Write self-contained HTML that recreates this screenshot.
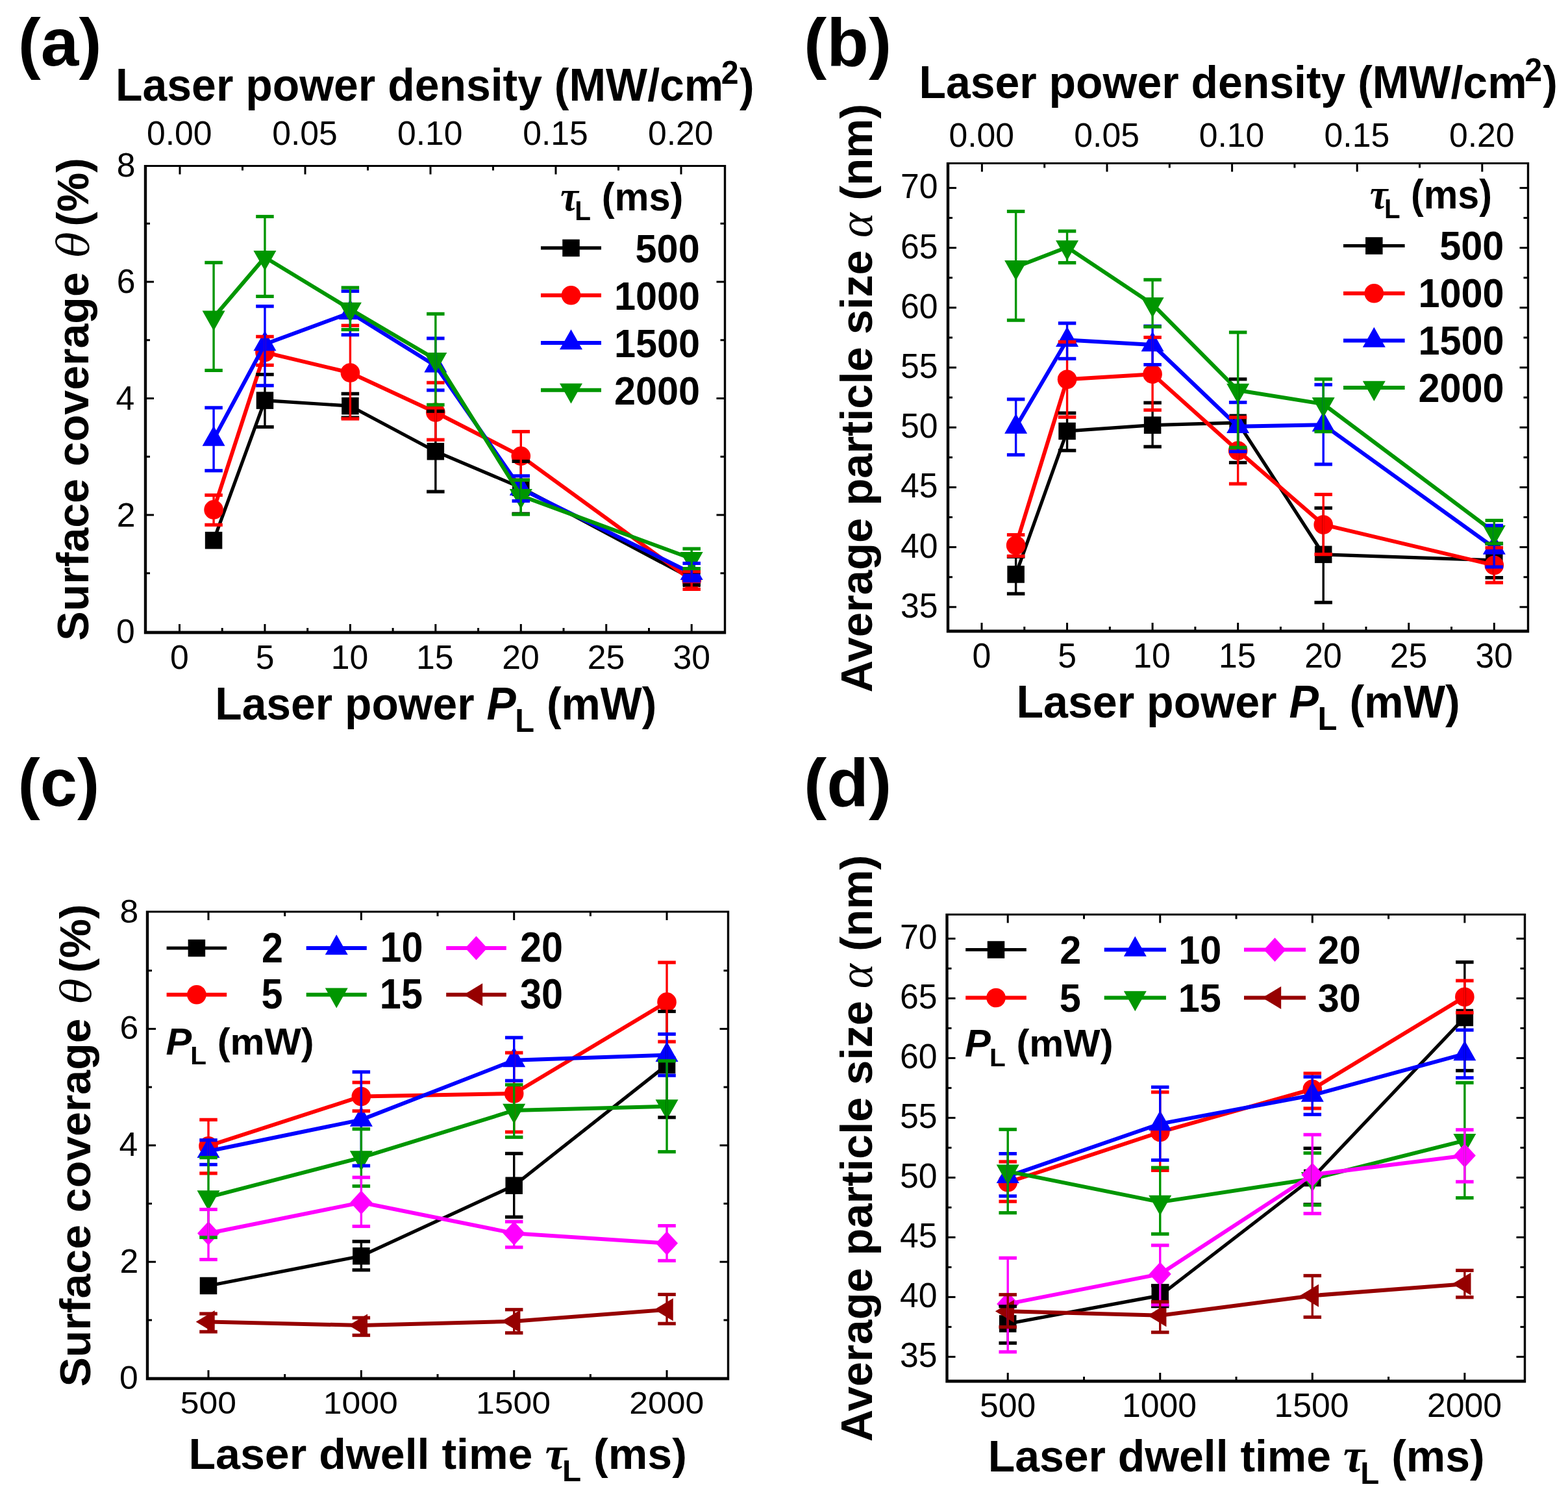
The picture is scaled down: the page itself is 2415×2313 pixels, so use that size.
<!DOCTYPE html><html><head><meta charset='utf-8'><title>Figure</title><style>html,body{margin:0;padding:0;background:#fff}svg{display:block}</style></head><body><svg xmlns='http://www.w3.org/2000/svg' width='2415' height='2313' viewBox='0 0 2415 2313'><rect width='2415' height='2313' fill='#fff'/><rect x='221.80' y='254.00' width='896.40' height='722.40' fill='#000'/><rect x='226.20' y='257.00' width='888.60' height='714.60' fill='#fff'/><line x1='276.50' y1='974.00' x2='276.50' y2='961.00' stroke='#000000' stroke-width='3.0' /><line x1='342.23' y1='974.00' x2='342.23' y2='967.00' stroke='#000000' stroke-width='3.0' /><line x1='407.95' y1='974.00' x2='407.95' y2='961.00' stroke='#000000' stroke-width='3.0' /><line x1='473.67' y1='974.00' x2='473.67' y2='967.00' stroke='#000000' stroke-width='3.0' /><line x1='539.40' y1='974.00' x2='539.40' y2='961.00' stroke='#000000' stroke-width='3.0' /><line x1='605.12' y1='974.00' x2='605.12' y2='967.00' stroke='#000000' stroke-width='3.0' /><line x1='670.85' y1='974.00' x2='670.85' y2='961.00' stroke='#000000' stroke-width='3.0' /><line x1='736.58' y1='974.00' x2='736.58' y2='967.00' stroke='#000000' stroke-width='3.0' /><line x1='802.30' y1='974.00' x2='802.30' y2='961.00' stroke='#000000' stroke-width='3.0' /><line x1='868.02' y1='974.00' x2='868.02' y2='967.00' stroke='#000000' stroke-width='3.0' /><line x1='933.75' y1='974.00' x2='933.75' y2='961.00' stroke='#000000' stroke-width='3.0' /><line x1='999.48' y1='974.00' x2='999.48' y2='967.00' stroke='#000000' stroke-width='3.0' /><line x1='1065.20' y1='974.00' x2='1065.20' y2='961.00' stroke='#000000' stroke-width='3.0' /><rect x='1457.80' y='250.00' width='897.40' height='724.40' fill='#000'/><rect x='1462.20' y='253.00' width='889.60' height='716.60' fill='#fff'/><line x1='1512.00' y1='972.00' x2='1512.00' y2='959.00' stroke='#000000' stroke-width='3.0' /><line x1='1577.78' y1='972.00' x2='1577.78' y2='965.00' stroke='#000000' stroke-width='3.0' /><line x1='1643.55' y1='972.00' x2='1643.55' y2='959.00' stroke='#000000' stroke-width='3.0' /><line x1='1709.33' y1='972.00' x2='1709.33' y2='965.00' stroke='#000000' stroke-width='3.0' /><line x1='1775.10' y1='972.00' x2='1775.10' y2='959.00' stroke='#000000' stroke-width='3.0' /><line x1='1840.88' y1='972.00' x2='1840.88' y2='965.00' stroke='#000000' stroke-width='3.0' /><line x1='1906.65' y1='972.00' x2='1906.65' y2='959.00' stroke='#000000' stroke-width='3.0' /><line x1='1972.42' y1='972.00' x2='1972.42' y2='965.00' stroke='#000000' stroke-width='3.0' /><line x1='2038.20' y1='972.00' x2='2038.20' y2='959.00' stroke='#000000' stroke-width='3.0' /><line x1='2103.97' y1='972.00' x2='2103.97' y2='965.00' stroke='#000000' stroke-width='3.0' /><line x1='2169.75' y1='972.00' x2='2169.75' y2='959.00' stroke='#000000' stroke-width='3.0' /><line x1='2235.53' y1='972.00' x2='2235.53' y2='965.00' stroke='#000000' stroke-width='3.0' /><line x1='2301.30' y1='972.00' x2='2301.30' y2='959.00' stroke='#000000' stroke-width='3.0' /><line x1='277.00' y1='255.50' x2='277.00' y2='268.50' stroke='#000000' stroke-width='3.0' /><line x1='373.50' y1='255.50' x2='373.50' y2='262.50' stroke='#000000' stroke-width='3.0' /><line x1='470.00' y1='255.50' x2='470.00' y2='268.50' stroke='#000000' stroke-width='3.0' /><line x1='566.50' y1='255.50' x2='566.50' y2='262.50' stroke='#000000' stroke-width='3.0' /><line x1='663.00' y1='255.50' x2='663.00' y2='268.50' stroke='#000000' stroke-width='3.0' /><line x1='759.50' y1='255.50' x2='759.50' y2='262.50' stroke='#000000' stroke-width='3.0' /><line x1='856.00' y1='255.50' x2='856.00' y2='268.50' stroke='#000000' stroke-width='3.0' /><line x1='952.50' y1='255.50' x2='952.50' y2='262.50' stroke='#000000' stroke-width='3.0' /><line x1='1049.00' y1='255.50' x2='1049.00' y2='268.50' stroke='#000000' stroke-width='3.0' /><line x1='1512.40' y1='251.50' x2='1512.40' y2='264.50' stroke='#000000' stroke-width='3.0' /><line x1='1608.70' y1='251.50' x2='1608.70' y2='258.50' stroke='#000000' stroke-width='3.0' /><line x1='1705.00' y1='251.50' x2='1705.00' y2='264.50' stroke='#000000' stroke-width='3.0' /><line x1='1801.30' y1='251.50' x2='1801.30' y2='258.50' stroke='#000000' stroke-width='3.0' /><line x1='1897.60' y1='251.50' x2='1897.60' y2='264.50' stroke='#000000' stroke-width='3.0' /><line x1='1993.90' y1='251.50' x2='1993.90' y2='258.50' stroke='#000000' stroke-width='3.0' /><line x1='2090.20' y1='251.50' x2='2090.20' y2='264.50' stroke='#000000' stroke-width='3.0' /><line x1='2186.50' y1='251.50' x2='2186.50' y2='258.50' stroke='#000000' stroke-width='3.0' /><line x1='2282.80' y1='251.50' x2='2282.80' y2='264.50' stroke='#000000' stroke-width='3.0' /><line x1='224.00' y1='882.75' x2='231.00' y2='882.75' stroke='#000000' stroke-width='3.0' /><line x1='1116.50' y1='882.75' x2='1109.50' y2='882.75' stroke='#000000' stroke-width='3.0' /><line x1='224.00' y1='793.00' x2='237.00' y2='793.00' stroke='#000000' stroke-width='3.0' /><line x1='1116.50' y1='793.00' x2='1103.50' y2='793.00' stroke='#000000' stroke-width='3.0' /><line x1='224.00' y1='703.25' x2='231.00' y2='703.25' stroke='#000000' stroke-width='3.0' /><line x1='1116.50' y1='703.25' x2='1109.50' y2='703.25' stroke='#000000' stroke-width='3.0' /><line x1='224.00' y1='613.50' x2='237.00' y2='613.50' stroke='#000000' stroke-width='3.0' /><line x1='1116.50' y1='613.50' x2='1103.50' y2='613.50' stroke='#000000' stroke-width='3.0' /><line x1='224.00' y1='523.75' x2='231.00' y2='523.75' stroke='#000000' stroke-width='3.0' /><line x1='1116.50' y1='523.75' x2='1109.50' y2='523.75' stroke='#000000' stroke-width='3.0' /><line x1='224.00' y1='434.00' x2='237.00' y2='434.00' stroke='#000000' stroke-width='3.0' /><line x1='1116.50' y1='434.00' x2='1103.50' y2='434.00' stroke='#000000' stroke-width='3.0' /><line x1='224.00' y1='344.25' x2='231.00' y2='344.25' stroke='#000000' stroke-width='3.0' /><line x1='1116.50' y1='344.25' x2='1109.50' y2='344.25' stroke='#000000' stroke-width='3.0' /><line x1='1460.00' y1='934.80' x2='1473.00' y2='934.80' stroke='#000000' stroke-width='3.0' /><line x1='2353.50' y1='934.80' x2='2340.50' y2='934.80' stroke='#000000' stroke-width='3.0' /><line x1='1460.00' y1='888.70' x2='1467.00' y2='888.70' stroke='#000000' stroke-width='3.0' /><line x1='2353.50' y1='888.70' x2='2346.50' y2='888.70' stroke='#000000' stroke-width='3.0' /><line x1='1460.00' y1='842.60' x2='1473.00' y2='842.60' stroke='#000000' stroke-width='3.0' /><line x1='2353.50' y1='842.60' x2='2340.50' y2='842.60' stroke='#000000' stroke-width='3.0' /><line x1='1460.00' y1='796.50' x2='1467.00' y2='796.50' stroke='#000000' stroke-width='3.0' /><line x1='2353.50' y1='796.50' x2='2346.50' y2='796.50' stroke='#000000' stroke-width='3.0' /><line x1='1460.00' y1='750.40' x2='1473.00' y2='750.40' stroke='#000000' stroke-width='3.0' /><line x1='2353.50' y1='750.40' x2='2340.50' y2='750.40' stroke='#000000' stroke-width='3.0' /><line x1='1460.00' y1='704.30' x2='1467.00' y2='704.30' stroke='#000000' stroke-width='3.0' /><line x1='2353.50' y1='704.30' x2='2346.50' y2='704.30' stroke='#000000' stroke-width='3.0' /><line x1='1460.00' y1='658.20' x2='1473.00' y2='658.20' stroke='#000000' stroke-width='3.0' /><line x1='2353.50' y1='658.20' x2='2340.50' y2='658.20' stroke='#000000' stroke-width='3.0' /><line x1='1460.00' y1='612.10' x2='1467.00' y2='612.10' stroke='#000000' stroke-width='3.0' /><line x1='2353.50' y1='612.10' x2='2346.50' y2='612.10' stroke='#000000' stroke-width='3.0' /><line x1='1460.00' y1='566.00' x2='1473.00' y2='566.00' stroke='#000000' stroke-width='3.0' /><line x1='2353.50' y1='566.00' x2='2340.50' y2='566.00' stroke='#000000' stroke-width='3.0' /><line x1='1460.00' y1='519.90' x2='1467.00' y2='519.90' stroke='#000000' stroke-width='3.0' /><line x1='2353.50' y1='519.90' x2='2346.50' y2='519.90' stroke='#000000' stroke-width='3.0' /><line x1='1460.00' y1='473.80' x2='1473.00' y2='473.80' stroke='#000000' stroke-width='3.0' /><line x1='2353.50' y1='473.80' x2='2340.50' y2='473.80' stroke='#000000' stroke-width='3.0' /><line x1='1460.00' y1='427.70' x2='1467.00' y2='427.70' stroke='#000000' stroke-width='3.0' /><line x1='2353.50' y1='427.70' x2='2346.50' y2='427.70' stroke='#000000' stroke-width='3.0' /><line x1='1460.00' y1='381.60' x2='1473.00' y2='381.60' stroke='#000000' stroke-width='3.0' /><line x1='2353.50' y1='381.60' x2='2340.50' y2='381.60' stroke='#000000' stroke-width='3.0' /><line x1='1460.00' y1='335.50' x2='1467.00' y2='335.50' stroke='#000000' stroke-width='3.0' /><line x1='2353.50' y1='335.50' x2='2346.50' y2='335.50' stroke='#000000' stroke-width='3.0' /><line x1='1460.00' y1='289.40' x2='1473.00' y2='289.40' stroke='#000000' stroke-width='3.0' /><line x1='2353.50' y1='289.40' x2='2340.50' y2='289.40' stroke='#000000' stroke-width='3.0' /><rect x='224.80' y='1402.50' width='898.40' height='722.90' fill='#000'/><rect x='229.20' y='1405.50' width='890.60' height='715.10' fill='#fff'/><line x1='321.00' y1='2123.00' x2='321.00' y2='2110.00' stroke='#000000' stroke-width='3.0' /><line x1='321.00' y1='1404.00' x2='321.00' y2='1417.00' stroke='#000000' stroke-width='3.0' /><line x1='438.68' y1='2123.00' x2='438.68' y2='2116.00' stroke='#000000' stroke-width='3.0' /><line x1='438.68' y1='1404.00' x2='438.68' y2='1411.00' stroke='#000000' stroke-width='3.0' /><line x1='556.35' y1='2123.00' x2='556.35' y2='2110.00' stroke='#000000' stroke-width='3.0' /><line x1='556.35' y1='1404.00' x2='556.35' y2='1417.00' stroke='#000000' stroke-width='3.0' /><line x1='674.02' y1='2123.00' x2='674.02' y2='2116.00' stroke='#000000' stroke-width='3.0' /><line x1='674.02' y1='1404.00' x2='674.02' y2='1411.00' stroke='#000000' stroke-width='3.0' /><line x1='791.70' y1='2123.00' x2='791.70' y2='2110.00' stroke='#000000' stroke-width='3.0' /><line x1='791.70' y1='1404.00' x2='791.70' y2='1417.00' stroke='#000000' stroke-width='3.0' /><line x1='909.38' y1='2123.00' x2='909.38' y2='2116.00' stroke='#000000' stroke-width='3.0' /><line x1='909.38' y1='1404.00' x2='909.38' y2='1411.00' stroke='#000000' stroke-width='3.0' /><line x1='1027.05' y1='2123.00' x2='1027.05' y2='2110.00' stroke='#000000' stroke-width='3.0' /><line x1='1027.05' y1='1404.00' x2='1027.05' y2='1417.00' stroke='#000000' stroke-width='3.0' /><rect x='1456.30' y='1406.80' width='893.90' height='722.60' fill='#000'/><rect x='1460.70' y='1409.80' width='886.10' height='714.80' fill='#fff'/><line x1='1552.20' y1='2127.00' x2='1552.20' y2='2114.00' stroke='#000000' stroke-width='3.0' /><line x1='1552.20' y1='1408.30' x2='1552.20' y2='1421.30' stroke='#000000' stroke-width='3.0' /><line x1='1669.48' y1='2127.00' x2='1669.48' y2='2120.00' stroke='#000000' stroke-width='3.0' /><line x1='1669.48' y1='1408.30' x2='1669.48' y2='1415.30' stroke='#000000' stroke-width='3.0' /><line x1='1786.75' y1='2127.00' x2='1786.75' y2='2114.00' stroke='#000000' stroke-width='3.0' /><line x1='1786.75' y1='1408.30' x2='1786.75' y2='1421.30' stroke='#000000' stroke-width='3.0' /><line x1='1904.03' y1='2127.00' x2='1904.03' y2='2120.00' stroke='#000000' stroke-width='3.0' /><line x1='1904.03' y1='1408.30' x2='1904.03' y2='1415.30' stroke='#000000' stroke-width='3.0' /><line x1='2021.30' y1='2127.00' x2='2021.30' y2='2114.00' stroke='#000000' stroke-width='3.0' /><line x1='2021.30' y1='1408.30' x2='2021.30' y2='1421.30' stroke='#000000' stroke-width='3.0' /><line x1='2138.57' y1='2127.00' x2='2138.57' y2='2120.00' stroke='#000000' stroke-width='3.0' /><line x1='2138.57' y1='1408.30' x2='2138.57' y2='1415.30' stroke='#000000' stroke-width='3.0' /><line x1='2255.85' y1='2127.00' x2='2255.85' y2='2114.00' stroke='#000000' stroke-width='3.0' /><line x1='2255.85' y1='1408.30' x2='2255.85' y2='1421.30' stroke='#000000' stroke-width='3.0' /><line x1='227.00' y1='2032.90' x2='234.00' y2='2032.90' stroke='#000000' stroke-width='3.0' /><line x1='1121.50' y1='2032.90' x2='1114.50' y2='2032.90' stroke='#000000' stroke-width='3.0' /><line x1='227.00' y1='1943.20' x2='240.00' y2='1943.20' stroke='#000000' stroke-width='3.0' /><line x1='1121.50' y1='1943.20' x2='1108.50' y2='1943.20' stroke='#000000' stroke-width='3.0' /><line x1='227.00' y1='1853.50' x2='234.00' y2='1853.50' stroke='#000000' stroke-width='3.0' /><line x1='1121.50' y1='1853.50' x2='1114.50' y2='1853.50' stroke='#000000' stroke-width='3.0' /><line x1='227.00' y1='1763.80' x2='240.00' y2='1763.80' stroke='#000000' stroke-width='3.0' /><line x1='1121.50' y1='1763.80' x2='1108.50' y2='1763.80' stroke='#000000' stroke-width='3.0' /><line x1='227.00' y1='1674.10' x2='234.00' y2='1674.10' stroke='#000000' stroke-width='3.0' /><line x1='1121.50' y1='1674.10' x2='1114.50' y2='1674.10' stroke='#000000' stroke-width='3.0' /><line x1='227.00' y1='1584.40' x2='240.00' y2='1584.40' stroke='#000000' stroke-width='3.0' /><line x1='1121.50' y1='1584.40' x2='1108.50' y2='1584.40' stroke='#000000' stroke-width='3.0' /><line x1='227.00' y1='1494.70' x2='234.00' y2='1494.70' stroke='#000000' stroke-width='3.0' /><line x1='1121.50' y1='1494.70' x2='1114.50' y2='1494.70' stroke='#000000' stroke-width='3.0' /><line x1='1458.50' y1='2089.40' x2='1471.50' y2='2089.40' stroke='#000000' stroke-width='3.0' /><line x1='2348.50' y1='2089.40' x2='2335.50' y2='2089.40' stroke='#000000' stroke-width='3.0' /><line x1='1458.50' y1='2043.40' x2='1465.50' y2='2043.40' stroke='#000000' stroke-width='3.0' /><line x1='2348.50' y1='2043.40' x2='2341.50' y2='2043.40' stroke='#000000' stroke-width='3.0' /><line x1='1458.50' y1='1997.40' x2='1471.50' y2='1997.40' stroke='#000000' stroke-width='3.0' /><line x1='2348.50' y1='1997.40' x2='2335.50' y2='1997.40' stroke='#000000' stroke-width='3.0' /><line x1='1458.50' y1='1951.40' x2='1465.50' y2='1951.40' stroke='#000000' stroke-width='3.0' /><line x1='2348.50' y1='1951.40' x2='2341.50' y2='1951.40' stroke='#000000' stroke-width='3.0' /><line x1='1458.50' y1='1905.40' x2='1471.50' y2='1905.40' stroke='#000000' stroke-width='3.0' /><line x1='2348.50' y1='1905.40' x2='2335.50' y2='1905.40' stroke='#000000' stroke-width='3.0' /><line x1='1458.50' y1='1859.40' x2='1465.50' y2='1859.40' stroke='#000000' stroke-width='3.0' /><line x1='2348.50' y1='1859.40' x2='2341.50' y2='1859.40' stroke='#000000' stroke-width='3.0' /><line x1='1458.50' y1='1813.40' x2='1471.50' y2='1813.40' stroke='#000000' stroke-width='3.0' /><line x1='2348.50' y1='1813.40' x2='2335.50' y2='1813.40' stroke='#000000' stroke-width='3.0' /><line x1='1458.50' y1='1767.40' x2='1465.50' y2='1767.40' stroke='#000000' stroke-width='3.0' /><line x1='2348.50' y1='1767.40' x2='2341.50' y2='1767.40' stroke='#000000' stroke-width='3.0' /><line x1='1458.50' y1='1721.40' x2='1471.50' y2='1721.40' stroke='#000000' stroke-width='3.0' /><line x1='2348.50' y1='1721.40' x2='2335.50' y2='1721.40' stroke='#000000' stroke-width='3.0' /><line x1='1458.50' y1='1675.40' x2='1465.50' y2='1675.40' stroke='#000000' stroke-width='3.0' /><line x1='2348.50' y1='1675.40' x2='2341.50' y2='1675.40' stroke='#000000' stroke-width='3.0' /><line x1='1458.50' y1='1629.40' x2='1471.50' y2='1629.40' stroke='#000000' stroke-width='3.0' /><line x1='2348.50' y1='1629.40' x2='2335.50' y2='1629.40' stroke='#000000' stroke-width='3.0' /><line x1='1458.50' y1='1583.40' x2='1465.50' y2='1583.40' stroke='#000000' stroke-width='3.0' /><line x1='2348.50' y1='1583.40' x2='2341.50' y2='1583.40' stroke='#000000' stroke-width='3.0' /><line x1='1458.50' y1='1537.40' x2='1471.50' y2='1537.40' stroke='#000000' stroke-width='3.0' /><line x1='2348.50' y1='1537.40' x2='2335.50' y2='1537.40' stroke='#000000' stroke-width='3.0' /><line x1='1458.50' y1='1491.40' x2='1465.50' y2='1491.40' stroke='#000000' stroke-width='3.0' /><line x1='2348.50' y1='1491.40' x2='2341.50' y2='1491.40' stroke='#000000' stroke-width='3.0' /><line x1='1458.50' y1='1445.40' x2='1471.50' y2='1445.40' stroke='#000000' stroke-width='3.0' /><line x1='2348.50' y1='1445.40' x2='2335.50' y2='1445.40' stroke='#000000' stroke-width='3.0' /><polyline points='329.08,832.13 407.95,616.64 539.40,625.17 670.85,695.17 802.30,750.82 1065.20,890.83' fill='none' stroke='#000000' stroke-width='5.2' stroke-linejoin='round'/><rect x='315.83' y='818.88' width='26.5' height='26.5' fill='#000000'/><rect x='394.70' y='603.39' width='26.5' height='26.5' fill='#000000'/><rect x='526.15' y='611.92' width='26.5' height='26.5' fill='#000000'/><rect x='657.60' y='681.92' width='26.5' height='26.5' fill='#000000'/><rect x='789.05' y='737.57' width='26.5' height='26.5' fill='#000000'/><rect x='1051.95' y='877.58' width='26.5' height='26.5' fill='#000000'/><polyline points='329.08,784.92 407.95,542.60 539.40,574.01 670.85,635.04 802.30,702.35 1065.20,893.52' fill='none' stroke='#ff0000' stroke-width='6.0' stroke-linejoin='round'/><circle cx='329.08' cy='784.92' r='14.8' fill='#ff0000'/><circle cx='407.95' cy='542.60' r='14.8' fill='#ff0000'/><circle cx='539.40' cy='574.01' r='14.8' fill='#ff0000'/><circle cx='670.85' cy='635.04' r='14.8' fill='#ff0000'/><circle cx='802.30' cy='702.35' r='14.8' fill='#ff0000'/><circle cx='1065.20' cy='893.52' r='14.8' fill='#ff0000'/><polyline points='329.08,676.33 407.95,530.03 539.40,481.57 670.85,563.24 802.30,752.61 1065.20,882.75' fill='none' stroke='#0000ff' stroke-width='6.0' stroke-linejoin='round'/><polygon points='311.58,686.66 346.58,686.66 329.08,655.66' fill='#0000ff'/><polygon points='390.45,540.37 425.45,540.37 407.95,509.37' fill='#0000ff'/><polygon points='521.90,491.90 556.90,491.90 539.40,460.90' fill='#0000ff'/><polygon points='653.35,573.57 688.35,573.57 670.85,542.57' fill='#0000ff'/><polygon points='784.80,762.95 819.80,762.95 802.30,731.95' fill='#0000ff'/><polygon points='1047.70,893.08 1082.70,893.08 1065.20,862.08' fill='#0000ff'/><polyline points='329.08,488.75 407.95,396.30 539.40,476.18 670.85,553.37 802.30,763.38 1065.20,860.31' fill='none' stroke='#009600' stroke-width='6.0' stroke-linejoin='round'/><polygon points='311.58,478.41 346.58,478.41 329.08,509.41' fill='#009600'/><polygon points='390.45,385.97 425.45,385.97 407.95,416.97' fill='#009600'/><polygon points='521.90,465.85 556.90,465.85 539.40,496.85' fill='#009600'/><polygon points='653.35,543.03 688.35,543.03 670.85,574.03' fill='#009600'/><polygon points='784.80,753.05 819.80,753.05 802.30,784.05' fill='#009600'/><polygon points='1047.70,849.98 1082.70,849.98 1065.20,880.98' fill='#009600'/><line x1='407.95' y1='576.70' x2='407.95' y2='657.48' stroke='#000000' stroke-width='3.4' /><line x1='394.20' y1='576.70' x2='421.70' y2='576.70' stroke='#000000' stroke-width='5.2' /><line x1='394.20' y1='657.48' x2='421.70' y2='657.48' stroke='#000000' stroke-width='5.2' /><line x1='539.40' y1='606.32' x2='539.40' y2='643.12' stroke='#000000' stroke-width='3.4' /><line x1='525.65' y1='606.32' x2='553.15' y2='606.32' stroke='#000000' stroke-width='5.2' /><line x1='525.65' y1='643.12' x2='553.15' y2='643.12' stroke='#000000' stroke-width='5.2' /><line x1='670.85' y1='633.25' x2='670.85' y2='757.10' stroke='#000000' stroke-width='3.4' /><line x1='657.10' y1='633.25' x2='684.60' y2='633.25' stroke='#000000' stroke-width='5.2' /><line x1='657.10' y1='757.10' x2='684.60' y2='757.10' stroke='#000000' stroke-width='5.2' /><line x1='802.30' y1='710.43' x2='802.30' y2='791.21' stroke='#000000' stroke-width='3.4' /><line x1='788.55' y1='710.43' x2='816.05' y2='710.43' stroke='#000000' stroke-width='5.2' /><line x1='788.55' y1='791.21' x2='816.05' y2='791.21' stroke='#000000' stroke-width='5.2' /><line x1='1065.20' y1='880.96' x2='1065.20' y2='900.70' stroke='#000000' stroke-width='3.4' /><line x1='1051.45' y1='880.96' x2='1078.95' y2='880.96' stroke='#000000' stroke-width='5.2' /><line x1='1051.45' y1='900.70' x2='1078.95' y2='900.70' stroke='#000000' stroke-width='5.2' /><line x1='329.08' y1='762.49' x2='329.08' y2='808.26' stroke='#ff0000' stroke-width='3.4' /><line x1='315.33' y1='762.49' x2='342.83' y2='762.49' stroke='#ff0000' stroke-width='5.2' /><line x1='315.33' y1='808.26' x2='342.83' y2='808.26' stroke='#ff0000' stroke-width='5.2' /><line x1='407.95' y1='518.37' x2='407.95' y2='562.34' stroke='#ff0000' stroke-width='3.4' /><line x1='394.20' y1='518.37' x2='421.70' y2='518.37' stroke='#ff0000' stroke-width='5.2' /><line x1='394.20' y1='562.34' x2='421.70' y2='562.34' stroke='#ff0000' stroke-width='5.2' /><line x1='539.40' y1='501.31' x2='539.40' y2='644.91' stroke='#ff0000' stroke-width='3.4' /><line x1='525.65' y1='501.31' x2='553.15' y2='501.31' stroke='#ff0000' stroke-width='5.2' /><line x1='525.65' y1='644.91' x2='553.15' y2='644.91' stroke='#ff0000' stroke-width='5.2' /><line x1='670.85' y1='589.27' x2='670.85' y2='677.22' stroke='#ff0000' stroke-width='3.4' /><line x1='657.10' y1='589.27' x2='684.60' y2='589.27' stroke='#ff0000' stroke-width='5.2' /><line x1='657.10' y1='677.22' x2='684.60' y2='677.22' stroke='#ff0000' stroke-width='5.2' /><line x1='802.30' y1='664.66' x2='802.30' y2='739.15' stroke='#ff0000' stroke-width='3.4' /><line x1='788.55' y1='664.66' x2='816.05' y2='664.66' stroke='#ff0000' stroke-width='5.2' /><line x1='788.55' y1='739.15' x2='816.05' y2='739.15' stroke='#ff0000' stroke-width='5.2' /><line x1='1065.20' y1='880.06' x2='1065.20' y2='907.43' stroke='#ff0000' stroke-width='3.4' /><line x1='1051.45' y1='880.06' x2='1078.95' y2='880.06' stroke='#ff0000' stroke-width='5.2' /><line x1='1051.45' y1='907.43' x2='1078.95' y2='907.43' stroke='#ff0000' stroke-width='5.2' /><line x1='329.08' y1='627.86' x2='329.08' y2='724.79' stroke='#0000ff' stroke-width='3.4' /><line x1='315.33' y1='627.86' x2='342.83' y2='627.86' stroke='#0000ff' stroke-width='5.2' /><line x1='315.33' y1='724.79' x2='342.83' y2='724.79' stroke='#0000ff' stroke-width='5.2' /><line x1='407.95' y1='471.69' x2='407.95' y2='593.75' stroke='#0000ff' stroke-width='3.4' /><line x1='394.20' y1='471.69' x2='421.70' y2='471.69' stroke='#0000ff' stroke-width='5.2' /><line x1='394.20' y1='593.75' x2='421.70' y2='593.75' stroke='#0000ff' stroke-width='5.2' /><line x1='539.40' y1='448.36' x2='539.40' y2='515.67' stroke='#0000ff' stroke-width='3.4' /><line x1='525.65' y1='448.36' x2='553.15' y2='448.36' stroke='#0000ff' stroke-width='5.2' /><line x1='525.65' y1='515.67' x2='553.15' y2='515.67' stroke='#0000ff' stroke-width='5.2' /><line x1='670.85' y1='521.06' x2='670.85' y2='600.93' stroke='#0000ff' stroke-width='3.4' /><line x1='657.10' y1='521.06' x2='684.60' y2='521.06' stroke='#0000ff' stroke-width='5.2' /><line x1='657.10' y1='600.93' x2='684.60' y2='600.93' stroke='#0000ff' stroke-width='5.2' /><line x1='802.30' y1='732.87' x2='802.30' y2='771.46' stroke='#0000ff' stroke-width='3.4' /><line x1='788.55' y1='732.87' x2='816.05' y2='732.87' stroke='#0000ff' stroke-width='5.2' /><line x1='788.55' y1='771.46' x2='816.05' y2='771.46' stroke='#0000ff' stroke-width='5.2' /><line x1='1065.20' y1='867.49' x2='1065.20' y2='894.42' stroke='#0000ff' stroke-width='3.4' /><line x1='1051.45' y1='867.49' x2='1078.95' y2='867.49' stroke='#0000ff' stroke-width='5.2' /><line x1='1051.45' y1='894.42' x2='1078.95' y2='894.42' stroke='#0000ff' stroke-width='5.2' /><line x1='329.08' y1='404.38' x2='329.08' y2='570.42' stroke='#009600' stroke-width='3.4' /><line x1='315.33' y1='404.38' x2='342.83' y2='404.38' stroke='#009600' stroke-width='5.2' /><line x1='315.33' y1='570.42' x2='342.83' y2='570.42' stroke='#009600' stroke-width='5.2' /><line x1='407.95' y1='333.48' x2='407.95' y2='456.44' stroke='#009600' stroke-width='3.4' /><line x1='394.20' y1='333.48' x2='421.70' y2='333.48' stroke='#009600' stroke-width='5.2' /><line x1='394.20' y1='456.44' x2='421.70' y2='456.44' stroke='#009600' stroke-width='5.2' /><line x1='539.40' y1='442.98' x2='539.40' y2='507.60' stroke='#009600' stroke-width='3.4' /><line x1='525.65' y1='442.98' x2='553.15' y2='442.98' stroke='#009600' stroke-width='5.2' /><line x1='525.65' y1='507.60' x2='553.15' y2='507.60' stroke='#009600' stroke-width='5.2' /><line x1='670.85' y1='483.36' x2='670.85' y2='623.37' stroke='#009600' stroke-width='3.4' /><line x1='657.10' y1='483.36' x2='684.60' y2='483.36' stroke='#009600' stroke-width='5.2' /><line x1='657.10' y1='623.37' x2='684.60' y2='623.37' stroke='#009600' stroke-width='5.2' /><line x1='802.30' y1='739.15' x2='802.30' y2='792.10' stroke='#009600' stroke-width='3.4' /><line x1='788.55' y1='739.15' x2='816.05' y2='739.15' stroke='#009600' stroke-width='5.2' /><line x1='788.55' y1='792.10' x2='816.05' y2='792.10' stroke='#009600' stroke-width='5.2' /><line x1='1065.20' y1='845.06' x2='1065.20' y2='875.57' stroke='#009600' stroke-width='3.4' /><line x1='1051.45' y1='845.06' x2='1078.95' y2='845.06' stroke='#009600' stroke-width='5.2' /><line x1='1051.45' y1='875.57' x2='1078.95' y2='875.57' stroke='#009600' stroke-width='5.2' /><polyline points='1564.62,884.46 1643.55,663.92 1775.10,654.70 1906.65,650.82 2038.20,853.85 2301.30,862.88' fill='none' stroke='#000000' stroke-width='5.2' stroke-linejoin='round'/><rect x='1551.37' y='871.21' width='26.5' height='26.5' fill='#000000'/><rect x='1630.30' y='650.67' width='26.5' height='26.5' fill='#000000'/><rect x='1761.85' y='641.45' width='26.5' height='26.5' fill='#000000'/><rect x='1893.40' y='637.57' width='26.5' height='26.5' fill='#000000'/><rect x='2024.95' y='840.60' width='26.5' height='26.5' fill='#000000'/><rect x='2288.05' y='849.63' width='26.5' height='26.5' fill='#000000'/><polyline points='1564.62,839.83 1643.55,584.26 1775.10,576.14 1906.65,693.97 2038.20,807.93 2301.30,870.44' fill='none' stroke='#ff0000' stroke-width='6.0' stroke-linejoin='round'/><circle cx='1564.62' cy='839.83' r='14.8' fill='#ff0000'/><circle cx='1643.55' cy='584.26' r='14.8' fill='#ff0000'/><circle cx='1775.10' cy='576.14' r='14.8' fill='#ff0000'/><circle cx='1906.65' cy='693.97' r='14.8' fill='#ff0000'/><circle cx='2038.20' cy='807.93' r='14.8' fill='#ff0000'/><circle cx='2301.30' cy='870.44' r='14.8' fill='#ff0000'/><polyline points='1564.62,657.46 1643.55,523.59 1775.10,530.96 1906.65,656.72 2038.20,654.14 2301.30,843.52' fill='none' stroke='#0000ff' stroke-width='6.0' stroke-linejoin='round'/><polygon points='1547.12,667.80 1582.12,667.80 1564.62,636.80' fill='#0000ff'/><polygon points='1626.05,533.92 1661.05,533.92 1643.55,502.92' fill='#0000ff'/><polygon points='1757.60,541.30 1792.60,541.30 1775.10,510.30' fill='#0000ff'/><polygon points='1889.15,667.06 1924.15,667.06 1906.65,636.06' fill='#0000ff'/><polygon points='2020.70,664.48 2055.70,664.48 2038.20,633.48' fill='#0000ff'/><polygon points='2283.80,853.86 2318.80,853.86 2301.30,822.86' fill='#0000ff'/><polyline points='1564.62,411.29 1643.55,380.68 1775.10,468.45 1906.65,601.04 2038.20,622.24 2301.30,819.37' fill='none' stroke='#009600' stroke-width='6.0' stroke-linejoin='round'/><polygon points='1547.12,400.96 1582.12,400.96 1564.62,431.96' fill='#009600'/><polygon points='1626.05,370.34 1661.05,370.34 1643.55,401.34' fill='#009600'/><polygon points='1757.60,458.12 1792.60,458.12 1775.10,489.12' fill='#009600'/><polygon points='1889.15,590.70 1924.15,590.70 1906.65,621.70' fill='#009600'/><polygon points='2020.70,611.91 2055.70,611.91 2038.20,642.91' fill='#009600'/><polygon points='2283.80,809.03 2318.80,809.03 2301.30,840.03' fill='#009600'/><line x1='1564.62' y1='857.35' x2='1564.62' y2='914.33' stroke='#000000' stroke-width='3.4' /><line x1='1550.87' y1='857.35' x2='1578.37' y2='857.35' stroke='#000000' stroke-width='5.2' /><line x1='1550.87' y1='914.33' x2='1578.37' y2='914.33' stroke='#000000' stroke-width='5.2' /><line x1='1643.55' y1='636.07' x2='1643.55' y2='693.79' stroke='#000000' stroke-width='3.4' /><line x1='1629.80' y1='636.07' x2='1657.30' y2='636.07' stroke='#000000' stroke-width='5.2' /><line x1='1629.80' y1='693.79' x2='1657.30' y2='693.79' stroke='#000000' stroke-width='5.2' /><line x1='1775.10' y1='620.21' x2='1775.10' y2='687.89' stroke='#000000' stroke-width='3.4' /><line x1='1761.35' y1='620.21' x2='1788.85' y2='620.21' stroke='#000000' stroke-width='5.2' /><line x1='1761.35' y1='687.89' x2='1788.85' y2='687.89' stroke='#000000' stroke-width='5.2' /><line x1='1906.65' y1='583.89' x2='1906.65' y2='712.41' stroke='#000000' stroke-width='3.4' /><line x1='1892.90' y1='583.89' x2='1920.40' y2='583.89' stroke='#000000' stroke-width='5.2' /><line x1='1892.90' y1='712.41' x2='1920.40' y2='712.41' stroke='#000000' stroke-width='5.2' /><line x1='2038.20' y1='782.30' x2='2038.20' y2='927.79' stroke='#000000' stroke-width='3.4' /><line x1='2024.45' y1='782.30' x2='2051.95' y2='782.30' stroke='#000000' stroke-width='5.2' /><line x1='2024.45' y1='927.79' x2='2051.95' y2='927.79' stroke='#000000' stroke-width='5.2' /><line x1='2301.30' y1='837.07' x2='2301.30' y2='889.62' stroke='#000000' stroke-width='3.4' /><line x1='2287.55' y1='837.07' x2='2315.05' y2='837.07' stroke='#000000' stroke-width='5.2' /><line x1='2287.55' y1='889.62' x2='2315.05' y2='889.62' stroke='#000000' stroke-width='5.2' /><line x1='1564.62' y1='823.61' x2='1564.62' y2='856.43' stroke='#ff0000' stroke-width='3.4' /><line x1='1550.87' y1='823.61' x2='1578.37' y2='823.61' stroke='#ff0000' stroke-width='5.2' /><line x1='1550.87' y1='856.43' x2='1578.37' y2='856.43' stroke='#ff0000' stroke-width='5.2' /><line x1='1643.55' y1='526.54' x2='1643.55' y2='642.34' stroke='#ff0000' stroke-width='3.4' /><line x1='1629.80' y1='526.54' x2='1657.30' y2='526.54' stroke='#ff0000' stroke-width='5.2' /><line x1='1629.80' y1='642.34' x2='1657.30' y2='642.34' stroke='#ff0000' stroke-width='5.2' /><line x1='1775.10' y1='519.53' x2='1775.10' y2='631.46' stroke='#ff0000' stroke-width='3.4' /><line x1='1761.35' y1='519.53' x2='1788.85' y2='519.53' stroke='#ff0000' stroke-width='5.2' /><line x1='1761.35' y1='631.46' x2='1788.85' y2='631.46' stroke='#ff0000' stroke-width='5.2' /><line x1='1906.65' y1='642.71' x2='1906.65' y2='745.05' stroke='#ff0000' stroke-width='3.4' /><line x1='1892.90' y1='642.71' x2='1920.40' y2='642.71' stroke='#ff0000' stroke-width='5.2' /><line x1='1892.90' y1='745.05' x2='1920.40' y2='745.05' stroke='#ff0000' stroke-width='5.2' /><line x1='2038.20' y1='761.46' x2='2038.20' y2='853.66' stroke='#ff0000' stroke-width='3.4' /><line x1='2024.45' y1='761.46' x2='2051.95' y2='761.46' stroke='#ff0000' stroke-width='5.2' /><line x1='2024.45' y1='853.66' x2='2051.95' y2='853.66' stroke='#ff0000' stroke-width='5.2' /><line x1='2301.30' y1='843.52' x2='2301.30' y2='897.18' stroke='#ff0000' stroke-width='3.4' /><line x1='2287.55' y1='843.52' x2='2315.05' y2='843.52' stroke='#ff0000' stroke-width='5.2' /><line x1='2287.55' y1='897.18' x2='2315.05' y2='897.18' stroke='#ff0000' stroke-width='5.2' /><line x1='1564.62' y1='614.87' x2='1564.62' y2='700.43' stroke='#0000ff' stroke-width='3.4' /><line x1='1550.87' y1='614.87' x2='1578.37' y2='614.87' stroke='#0000ff' stroke-width='5.2' /><line x1='1550.87' y1='700.43' x2='1578.37' y2='700.43' stroke='#0000ff' stroke-width='5.2' /><line x1='1643.55' y1='497.77' x2='1643.55' y2='552.35' stroke='#0000ff' stroke-width='3.4' /><line x1='1629.80' y1='497.77' x2='1657.30' y2='497.77' stroke='#0000ff' stroke-width='5.2' /><line x1='1629.80' y1='552.35' x2='1657.30' y2='552.35' stroke='#0000ff' stroke-width='5.2' /><line x1='1775.10' y1='502.20' x2='1775.10' y2='561.57' stroke='#0000ff' stroke-width='3.4' /><line x1='1761.35' y1='502.20' x2='1788.85' y2='502.20' stroke='#0000ff' stroke-width='5.2' /><line x1='1761.35' y1='561.57' x2='1788.85' y2='561.57' stroke='#0000ff' stroke-width='5.2' /><line x1='1906.65' y1='619.66' x2='1906.65' y2='695.26' stroke='#0000ff' stroke-width='3.4' /><line x1='1892.90' y1='619.66' x2='1920.40' y2='619.66' stroke='#0000ff' stroke-width='5.2' /><line x1='1892.90' y1='695.26' x2='1920.40' y2='695.26' stroke='#0000ff' stroke-width='5.2' /><line x1='2038.20' y1='592.37' x2='2038.20' y2='715.00' stroke='#0000ff' stroke-width='3.4' /><line x1='2024.45' y1='592.37' x2='2051.95' y2='592.37' stroke='#0000ff' stroke-width='5.2' /><line x1='2024.45' y1='715.00' x2='2051.95' y2='715.00' stroke='#0000ff' stroke-width='5.2' /><line x1='2301.30' y1='809.22' x2='2301.30' y2='873.03' stroke='#0000ff' stroke-width='3.4' /><line x1='2287.55' y1='809.22' x2='2315.05' y2='809.22' stroke='#0000ff' stroke-width='5.2' /><line x1='2287.55' y1='873.03' x2='2315.05' y2='873.03' stroke='#0000ff' stroke-width='5.2' /><line x1='1564.62' y1='325.54' x2='1564.62' y2='493.16' stroke='#009600' stroke-width='3.4' /><line x1='1550.87' y1='325.54' x2='1578.37' y2='325.54' stroke='#009600' stroke-width='5.2' /><line x1='1550.87' y1='493.16' x2='1578.37' y2='493.16' stroke='#009600' stroke-width='5.2' /><line x1='1643.55' y1='355.97' x2='1643.55' y2='404.65' stroke='#009600' stroke-width='3.4' /><line x1='1629.80' y1='355.97' x2='1657.30' y2='355.97' stroke='#009600' stroke-width='5.2' /><line x1='1629.80' y1='404.65' x2='1657.30' y2='404.65' stroke='#009600' stroke-width='5.2' /><line x1='1775.10' y1='430.83' x2='1775.10' y2='503.12' stroke='#009600' stroke-width='3.4' /><line x1='1761.35' y1='430.83' x2='1788.85' y2='430.83' stroke='#009600' stroke-width='5.2' /><line x1='1761.35' y1='503.12' x2='1788.85' y2='503.12' stroke='#009600' stroke-width='5.2' /><line x1='1906.65' y1='511.79' x2='1906.65' y2='689.18' stroke='#009600' stroke-width='3.4' /><line x1='1892.90' y1='511.79' x2='1920.40' y2='511.79' stroke='#009600' stroke-width='5.2' /><line x1='1892.90' y1='689.18' x2='1920.40' y2='689.18' stroke='#009600' stroke-width='5.2' /><line x1='2038.20' y1='583.89' x2='2038.20' y2='664.65' stroke='#009600' stroke-width='3.4' /><line x1='2024.45' y1='583.89' x2='2051.95' y2='583.89' stroke='#009600' stroke-width='5.2' /><line x1='2024.45' y1='664.65' x2='2051.95' y2='664.65' stroke='#009600' stroke-width='5.2' /><line x1='2301.30' y1='801.48' x2='2301.30' y2='837.07' stroke='#009600' stroke-width='3.4' /><line x1='2287.55' y1='801.48' x2='2315.05' y2='801.48' stroke='#009600' stroke-width='5.2' /><line x1='2287.55' y1='837.07' x2='2315.05' y2='837.07' stroke='#009600' stroke-width='5.2' /><polyline points='321.00,1979.98 556.35,1934.23 791.70,1825.69 1027.05,1640.01' fill='none' stroke='#000000' stroke-width='5.2' stroke-linejoin='round'/><rect x='307.75' y='1966.73' width='26.5' height='26.5' fill='#000000'/><rect x='543.10' y='1920.98' width='26.5' height='26.5' fill='#000000'/><rect x='778.45' y='1812.44' width='26.5' height='26.5' fill='#000000'/><rect x='1013.80' y='1626.76' width='26.5' height='26.5' fill='#000000'/><polyline points='321.00,1764.70 556.35,1688.45 791.70,1683.97 1027.05,1543.14' fill='none' stroke='#ff0000' stroke-width='6.0' stroke-linejoin='round'/><circle cx='321.00' cy='1764.70' r='14.8' fill='#ff0000'/><circle cx='556.35' cy='1688.45' r='14.8' fill='#ff0000'/><circle cx='791.70' cy='1683.97' r='14.8' fill='#ff0000'/><circle cx='1027.05' cy='1543.14' r='14.8' fill='#ff0000'/><polyline points='321.00,1772.77 556.35,1724.33 791.70,1632.84 1027.05,1624.76' fill='none' stroke='#0000ff' stroke-width='6.0' stroke-linejoin='round'/><polygon points='303.50,1783.10 338.50,1783.10 321.00,1752.10' fill='#0000ff'/><polygon points='538.85,1734.67 573.85,1734.67 556.35,1703.67' fill='#0000ff'/><polygon points='774.20,1643.17 809.20,1643.17 791.70,1612.17' fill='#0000ff'/><polygon points='1009.55,1635.10 1044.55,1635.10 1027.05,1604.10' fill='#0000ff'/><polyline points='321.00,1843.63 556.35,1782.64 791.70,1709.98 1027.05,1703.70' fill='none' stroke='#009600' stroke-width='6.0' stroke-linejoin='round'/><polygon points='303.50,1833.30 338.50,1833.30 321.00,1864.30' fill='#009600'/><polygon points='538.85,1772.30 573.85,1772.30 556.35,1803.30' fill='#009600'/><polygon points='774.20,1699.65 809.20,1699.65 791.70,1730.65' fill='#009600'/><polygon points='1009.55,1693.37 1044.55,1693.37 1027.05,1724.37' fill='#009600'/><polyline points='321.00,1899.25 556.35,1851.71 791.70,1899.25 1027.05,1914.50' fill='none' stroke='#ff00ff' stroke-width='6.0' stroke-linejoin='round'/><polygon points='304.00,1899.25 321.00,1880.75 338.00,1899.25 321.00,1917.75' fill='#ff00ff'/><polygon points='539.35,1851.71 556.35,1833.21 573.35,1851.71 556.35,1870.21' fill='#ff00ff'/><polygon points='774.70,1899.25 791.70,1880.75 808.70,1899.25 791.70,1917.75' fill='#ff00ff'/><polygon points='1010.05,1914.50 1027.05,1896.00 1044.05,1914.50 1027.05,1933.00' fill='#ff00ff'/><polyline points='321.00,2035.59 556.35,2040.97 791.70,2034.69 1027.05,2016.75' fill='none' stroke='#960000' stroke-width='6.0' stroke-linejoin='round'/><polygon points='301.67,2035.59 330.67,2018.09 330.67,2053.09' fill='#960000'/><polygon points='537.02,2040.97 566.02,2023.47 566.02,2058.47' fill='#960000'/><polygon points='772.37,2034.69 801.37,2017.19 801.37,2052.19' fill='#960000'/><polygon points='1007.72,2016.75 1036.72,1999.25 1036.72,2034.25' fill='#960000'/><line x1='556.35' y1='1911.80' x2='556.35' y2='1955.76' stroke='#000000' stroke-width='3.4' /><line x1='542.60' y1='1911.80' x2='570.10' y2='1911.80' stroke='#000000' stroke-width='5.2' /><line x1='542.60' y1='1955.76' x2='570.10' y2='1955.76' stroke='#000000' stroke-width='5.2' /><line x1='791.70' y1='1776.36' x2='791.70' y2='1874.13' stroke='#000000' stroke-width='3.4' /><line x1='777.95' y1='1776.36' x2='805.45' y2='1776.36' stroke='#000000' stroke-width='5.2' /><line x1='777.95' y1='1874.13' x2='805.45' y2='1874.13' stroke='#000000' stroke-width='5.2' /><line x1='1027.05' y1='1557.49' x2='1027.05' y2='1720.74' stroke='#000000' stroke-width='3.4' /><line x1='1013.30' y1='1557.49' x2='1040.80' y2='1557.49' stroke='#000000' stroke-width='5.2' /><line x1='1013.30' y1='1720.74' x2='1040.80' y2='1720.74' stroke='#000000' stroke-width='5.2' /><line x1='321.00' y1='1724.33' x2='321.00' y2='1806.86' stroke='#ff0000' stroke-width='3.4' /><line x1='307.25' y1='1724.33' x2='334.75' y2='1724.33' stroke='#ff0000' stroke-width='5.2' /><line x1='307.25' y1='1806.86' x2='334.75' y2='1806.86' stroke='#ff0000' stroke-width='5.2' /><line x1='556.35' y1='1666.92' x2='556.35' y2='1710.88' stroke='#ff0000' stroke-width='3.4' /><line x1='542.60' y1='1666.92' x2='570.10' y2='1666.92' stroke='#ff0000' stroke-width='5.2' /><line x1='542.60' y1='1710.88' x2='570.10' y2='1710.88' stroke='#ff0000' stroke-width='5.2' /><line x1='791.70' y1='1621.18' x2='791.70' y2='1743.17' stroke='#ff0000' stroke-width='3.4' /><line x1='777.95' y1='1621.18' x2='805.45' y2='1621.18' stroke='#ff0000' stroke-width='5.2' /><line x1='777.95' y1='1743.17' x2='805.45' y2='1743.17' stroke='#ff0000' stroke-width='5.2' /><line x1='1027.05' y1='1482.14' x2='1027.05' y2='1604.13' stroke='#ff0000' stroke-width='3.4' /><line x1='1013.30' y1='1482.14' x2='1040.80' y2='1482.14' stroke='#ff0000' stroke-width='5.2' /><line x1='1013.30' y1='1604.13' x2='1040.80' y2='1604.13' stroke='#ff0000' stroke-width='5.2' /><line x1='321.00' y1='1755.73' x2='321.00' y2='1793.40' stroke='#0000ff' stroke-width='3.4' /><line x1='307.25' y1='1755.73' x2='334.75' y2='1755.73' stroke='#0000ff' stroke-width='5.2' /><line x1='307.25' y1='1793.40' x2='334.75' y2='1793.40' stroke='#0000ff' stroke-width='5.2' /><line x1='556.35' y1='1650.78' x2='556.35' y2='1795.19' stroke='#0000ff' stroke-width='3.4' /><line x1='542.60' y1='1650.78' x2='570.10' y2='1650.78' stroke='#0000ff' stroke-width='5.2' /><line x1='542.60' y1='1795.19' x2='570.10' y2='1795.19' stroke='#0000ff' stroke-width='5.2' /><line x1='791.70' y1='1597.86' x2='791.70' y2='1664.23' stroke='#0000ff' stroke-width='3.4' /><line x1='777.95' y1='1597.86' x2='805.45' y2='1597.86' stroke='#0000ff' stroke-width='5.2' /><line x1='777.95' y1='1664.23' x2='805.45' y2='1664.23' stroke='#0000ff' stroke-width='5.2' /><line x1='1027.05' y1='1592.47' x2='1027.05' y2='1656.16' stroke='#0000ff' stroke-width='3.4' /><line x1='1013.30' y1='1592.47' x2='1040.80' y2='1592.47' stroke='#0000ff' stroke-width='5.2' /><line x1='1013.30' y1='1656.16' x2='1040.80' y2='1656.16' stroke='#0000ff' stroke-width='5.2' /><line x1='321.00' y1='1782.64' x2='321.00' y2='1905.53' stroke='#009600' stroke-width='3.4' /><line x1='307.25' y1='1782.64' x2='334.75' y2='1782.64' stroke='#009600' stroke-width='5.2' /><line x1='307.25' y1='1905.53' x2='334.75' y2='1905.53' stroke='#009600' stroke-width='5.2' /><line x1='556.35' y1='1738.68' x2='556.35' y2='1826.59' stroke='#009600' stroke-width='3.4' /><line x1='542.60' y1='1738.68' x2='570.10' y2='1738.68' stroke='#009600' stroke-width='5.2' /><line x1='542.60' y1='1826.59' x2='570.10' y2='1826.59' stroke='#009600' stroke-width='5.2' /><line x1='791.70' y1='1670.51' x2='791.70' y2='1751.24' stroke='#009600' stroke-width='3.4' /><line x1='777.95' y1='1670.51' x2='805.45' y2='1670.51' stroke='#009600' stroke-width='5.2' /><line x1='777.95' y1='1751.24' x2='805.45' y2='1751.24' stroke='#009600' stroke-width='5.2' /><line x1='1027.05' y1='1633.73' x2='1027.05' y2='1773.67' stroke='#009600' stroke-width='3.4' /><line x1='1013.30' y1='1633.73' x2='1040.80' y2='1633.73' stroke='#009600' stroke-width='5.2' /><line x1='1013.30' y1='1773.67' x2='1040.80' y2='1773.67' stroke='#009600' stroke-width='5.2' /><line x1='321.00' y1='1862.47' x2='321.00' y2='1939.61' stroke='#ff00ff' stroke-width='3.4' /><line x1='307.25' y1='1862.47' x2='334.75' y2='1862.47' stroke='#ff00ff' stroke-width='5.2' /><line x1='307.25' y1='1939.61' x2='334.75' y2='1939.61' stroke='#ff00ff' stroke-width='5.2' /><line x1='556.35' y1='1813.13' x2='556.35' y2='1888.48' stroke='#ff00ff' stroke-width='3.4' /><line x1='542.60' y1='1813.13' x2='570.10' y2='1813.13' stroke='#ff00ff' stroke-width='5.2' /><line x1='542.60' y1='1888.48' x2='570.10' y2='1888.48' stroke='#ff00ff' stroke-width='5.2' /><line x1='791.70' y1='1881.31' x2='791.70' y2='1920.77' stroke='#ff00ff' stroke-width='3.4' /><line x1='777.95' y1='1881.31' x2='805.45' y2='1881.31' stroke='#ff00ff' stroke-width='5.2' /><line x1='777.95' y1='1920.77' x2='805.45' y2='1920.77' stroke='#ff00ff' stroke-width='5.2' /><line x1='1027.05' y1='1887.59' x2='1027.05' y2='1941.41' stroke='#ff00ff' stroke-width='3.4' /><line x1='1013.30' y1='1887.59' x2='1040.80' y2='1887.59' stroke='#ff00ff' stroke-width='5.2' /><line x1='1013.30' y1='1941.41' x2='1040.80' y2='1941.41' stroke='#ff00ff' stroke-width='5.2' /><line x1='321.00' y1='2023.03' x2='321.00' y2='2050.84' stroke='#960000' stroke-width='3.4' /><line x1='307.25' y1='2023.03' x2='334.75' y2='2023.03' stroke='#960000' stroke-width='5.2' /><line x1='307.25' y1='2050.84' x2='334.75' y2='2050.84' stroke='#960000' stroke-width='5.2' /><line x1='556.35' y1='2029.31' x2='556.35' y2='2056.22' stroke='#960000' stroke-width='3.4' /><line x1='542.60' y1='2029.31' x2='570.10' y2='2029.31' stroke='#960000' stroke-width='5.2' /><line x1='542.60' y1='2056.22' x2='570.10' y2='2056.22' stroke='#960000' stroke-width='5.2' /><line x1='791.70' y1='2016.75' x2='791.70' y2='2052.63' stroke='#960000' stroke-width='3.4' /><line x1='777.95' y1='2016.75' x2='805.45' y2='2016.75' stroke='#960000' stroke-width='5.2' /><line x1='777.95' y1='2052.63' x2='805.45' y2='2052.63' stroke='#960000' stroke-width='5.2' /><line x1='1027.05' y1='1993.43' x2='1027.05' y2='2038.28' stroke='#960000' stroke-width='3.4' /><line x1='1013.30' y1='1993.43' x2='1040.80' y2='1993.43' stroke='#960000' stroke-width='5.2' /><line x1='1013.30' y1='2038.28' x2='1040.80' y2='2038.28' stroke='#960000' stroke-width='5.2' /><polyline points='1552.20,2038.43 1786.75,1995.01 2021.30,1813.95 2255.85,1567.02' fill='none' stroke='#000000' stroke-width='5.2' stroke-linejoin='round'/><rect x='1538.95' y='2025.18' width='26.5' height='26.5' fill='#000000'/><rect x='1773.50' y='1981.76' width='26.5' height='26.5' fill='#000000'/><rect x='2008.05' y='1800.70' width='26.5' height='26.5' fill='#000000'/><rect x='2242.60' y='1553.77' width='26.5' height='26.5' fill='#000000'/><polyline points='1552.20,1820.76 1786.75,1743.48 2021.30,1677.24 2255.85,1535.19' fill='none' stroke='#ff0000' stroke-width='6.0' stroke-linejoin='round'/><circle cx='1552.20' cy='1820.76' r='14.8' fill='#ff0000'/><circle cx='1786.75' cy='1743.48' r='14.8' fill='#ff0000'/><circle cx='2021.30' cy='1677.24' r='14.8' fill='#ff0000'/><circle cx='2255.85' cy='1535.19' r='14.8' fill='#ff0000'/><polyline points='1552.20,1811.56 1786.75,1730.60 2021.30,1686.44 2255.85,1622.96' fill='none' stroke='#0000ff' stroke-width='6.0' stroke-linejoin='round'/><polygon points='1534.70,1821.89 1569.70,1821.89 1552.20,1790.89' fill='#0000ff'/><polygon points='1769.25,1740.93 1804.25,1740.93 1786.75,1709.93' fill='#0000ff'/><polygon points='2003.80,1696.77 2038.80,1696.77 2021.30,1665.77' fill='#0000ff'/><polygon points='2238.35,1633.29 2273.35,1633.29 2255.85,1602.29' fill='#0000ff'/><polyline points='1552.20,1803.83 1786.75,1851.12 2021.30,1815.24 2255.85,1756.36' fill='none' stroke='#009600' stroke-width='6.0' stroke-linejoin='round'/><polygon points='1534.70,1793.50 1569.70,1793.50 1552.20,1824.50' fill='#009600'/><polygon points='1769.25,1840.79 1804.25,1840.79 1786.75,1871.79' fill='#009600'/><polygon points='2003.80,1804.91 2038.80,1804.91 2021.30,1835.91' fill='#009600'/><polygon points='2238.35,1746.03 2273.35,1746.03 2255.85,1777.03' fill='#009600'/><polyline points='1552.20,2007.89 1786.75,1961.89 2021.30,1808.98 2255.85,1779.54' fill='none' stroke='#ff00ff' stroke-width='6.0' stroke-linejoin='round'/><polygon points='1535.20,2007.89 1552.20,1989.39 1569.20,2007.89 1552.20,2026.39' fill='#ff00ff'/><polygon points='1769.75,1961.89 1786.75,1943.39 1803.75,1961.89 1786.75,1980.39' fill='#ff00ff'/><polygon points='2004.30,1808.98 2021.30,1790.48 2038.30,1808.98 2021.30,1827.48' fill='#ff00ff'/><polygon points='2238.85,1779.54 2255.85,1761.04 2272.85,1779.54 2255.85,1798.04' fill='#ff00ff'/><polyline points='1552.20,2019.30 1786.75,2025.74 2021.30,1995.19 2255.85,1977.16' fill='none' stroke='#960000' stroke-width='6.0' stroke-linejoin='round'/><polygon points='1532.87,2019.30 1561.87,2001.80 1561.87,2036.80' fill='#960000'/><polygon points='1767.42,2025.74 1796.42,2008.24 1796.42,2043.24' fill='#960000'/><polygon points='2001.97,1995.19 2030.97,1977.69 2030.97,2012.69' fill='#960000'/><polygon points='2236.52,1977.16 2265.52,1959.66 2265.52,1994.66' fill='#960000'/><line x1='1552.20' y1='2011.75' x2='1552.20' y2='2068.24' stroke='#000000' stroke-width='3.4' /><line x1='1538.45' y1='2011.75' x2='1565.95' y2='2011.75' stroke='#000000' stroke-width='5.2' /><line x1='1538.45' y1='2068.24' x2='1565.95' y2='2068.24' stroke='#000000' stroke-width='5.2' /><line x1='1786.75' y1='1979.74' x2='1786.75' y2='2011.75' stroke='#000000' stroke-width='3.4' /><line x1='1773.00' y1='1979.74' x2='1800.50' y2='1979.74' stroke='#000000' stroke-width='5.2' /><line x1='1773.00' y1='2011.75' x2='1800.50' y2='2011.75' stroke='#000000' stroke-width='5.2' /><line x1='2021.30' y1='1768.32' x2='2021.30' y2='1854.80' stroke='#000000' stroke-width='3.4' /><line x1='2007.55' y1='1768.32' x2='2035.05' y2='1768.32' stroke='#000000' stroke-width='5.2' /><line x1='2007.55' y1='1854.80' x2='2035.05' y2='1854.80' stroke='#000000' stroke-width='5.2' /><line x1='2255.85' y1='1481.65' x2='2255.85' y2='1648.72' stroke='#000000' stroke-width='3.4' /><line x1='2242.10' y1='1481.65' x2='2269.60' y2='1481.65' stroke='#000000' stroke-width='5.2' /><line x1='2242.10' y1='1648.72' x2='2269.60' y2='1648.72' stroke='#000000' stroke-width='5.2' /><line x1='1552.20' y1='1788.93' x2='1552.20' y2='1850.20' stroke='#ff0000' stroke-width='3.4' /><line x1='1538.45' y1='1788.93' x2='1565.95' y2='1788.93' stroke='#ff0000' stroke-width='5.2' /><line x1='1538.45' y1='1850.20' x2='1565.95' y2='1850.20' stroke='#ff0000' stroke-width='5.2' /><line x1='1786.75' y1='1681.84' x2='1786.75' y2='1802.36' stroke='#ff0000' stroke-width='3.4' /><line x1='1773.00' y1='1681.84' x2='1800.50' y2='1681.84' stroke='#ff0000' stroke-width='5.2' /><line x1='1773.00' y1='1802.36' x2='1800.50' y2='1802.36' stroke='#ff0000' stroke-width='5.2' /><line x1='2021.30' y1='1652.95' x2='2021.30' y2='1706.86' stroke='#ff0000' stroke-width='3.4' /><line x1='2007.55' y1='1652.95' x2='2035.05' y2='1652.95' stroke='#ff0000' stroke-width='5.2' /><line x1='2007.55' y1='1706.86' x2='2035.05' y2='1706.86' stroke='#ff0000' stroke-width='5.2' /><line x1='2255.85' y1='1510.17' x2='2255.85' y2='1559.48' stroke='#ff0000' stroke-width='3.4' /><line x1='2242.10' y1='1510.17' x2='2269.60' y2='1510.17' stroke='#ff0000' stroke-width='5.2' /><line x1='2242.10' y1='1559.48' x2='2269.60' y2='1559.48' stroke='#ff0000' stroke-width='5.2' /><line x1='1552.20' y1='1776.60' x2='1552.20' y2='1841.92' stroke='#0000ff' stroke-width='3.4' /><line x1='1538.45' y1='1776.60' x2='1565.95' y2='1776.60' stroke='#0000ff' stroke-width='5.2' /><line x1='1538.45' y1='1841.92' x2='1565.95' y2='1841.92' stroke='#0000ff' stroke-width='5.2' /><line x1='1786.75' y1='1674.11' x2='1786.75' y2='1786.54' stroke='#0000ff' stroke-width='3.4' /><line x1='1773.00' y1='1674.11' x2='1800.50' y2='1674.11' stroke='#0000ff' stroke-width='5.2' /><line x1='1773.00' y1='1786.54' x2='1800.50' y2='1786.54' stroke='#0000ff' stroke-width='5.2' /><line x1='2021.30' y1='1658.29' x2='2021.30' y2='1716.25' stroke='#0000ff' stroke-width='3.4' /><line x1='2007.55' y1='1658.29' x2='2035.05' y2='1658.29' stroke='#0000ff' stroke-width='5.2' /><line x1='2007.55' y1='1716.25' x2='2035.05' y2='1716.25' stroke='#0000ff' stroke-width='5.2' /><line x1='2255.85' y1='1586.16' x2='2255.85' y2='1659.76' stroke='#0000ff' stroke-width='3.4' /><line x1='2242.10' y1='1586.16' x2='2269.60' y2='1586.16' stroke='#0000ff' stroke-width='5.2' /><line x1='2242.10' y1='1659.76' x2='2269.60' y2='1659.76' stroke='#0000ff' stroke-width='5.2' /><line x1='1552.20' y1='1739.25' x2='1552.20' y2='1867.68' stroke='#009600' stroke-width='3.4' /><line x1='1538.45' y1='1739.25' x2='1565.95' y2='1739.25' stroke='#009600' stroke-width='5.2' /><line x1='1538.45' y1='1867.68' x2='1565.95' y2='1867.68' stroke='#009600' stroke-width='5.2' /><line x1='1786.75' y1='1798.13' x2='1786.75' y2='1900.25' stroke='#009600' stroke-width='3.4' /><line x1='1773.00' y1='1798.13' x2='1800.50' y2='1798.13' stroke='#009600' stroke-width='5.2' /><line x1='1773.00' y1='1900.25' x2='1800.50' y2='1900.25' stroke='#009600' stroke-width='5.2' /><line x1='2021.30' y1='1775.68' x2='2021.30' y2='1855.72' stroke='#009600' stroke-width='3.4' /><line x1='2007.55' y1='1775.68' x2='2035.05' y2='1775.68' stroke='#009600' stroke-width='5.2' /><line x1='2007.55' y1='1855.72' x2='2035.05' y2='1855.72' stroke='#009600' stroke-width='5.2' /><line x1='2255.85' y1='1667.30' x2='2255.85' y2='1844.68' stroke='#009600' stroke-width='3.4' /><line x1='2242.10' y1='1667.30' x2='2269.60' y2='1667.30' stroke='#009600' stroke-width='5.2' /><line x1='2242.10' y1='1844.68' x2='2269.60' y2='1844.68' stroke='#009600' stroke-width='5.2' /><line x1='1552.20' y1='1937.23' x2='1552.20' y2='2081.86' stroke='#ff00ff' stroke-width='3.4' /><line x1='1538.45' y1='1937.23' x2='1565.95' y2='1937.23' stroke='#ff00ff' stroke-width='5.2' /><line x1='1538.45' y1='2081.86' x2='1565.95' y2='2081.86' stroke='#ff00ff' stroke-width='5.2' /><line x1='1786.75' y1='1917.73' x2='1786.75' y2='2009.18' stroke='#ff00ff' stroke-width='3.4' /><line x1='1773.00' y1='1917.73' x2='1800.50' y2='1917.73' stroke='#ff00ff' stroke-width='5.2' /><line x1='1773.00' y1='2009.18' x2='1800.50' y2='2009.18' stroke='#ff00ff' stroke-width='5.2' /><line x1='2021.30' y1='1747.34' x2='2021.30' y2='1868.78' stroke='#ff00ff' stroke-width='3.4' /><line x1='2007.55' y1='1747.34' x2='2035.05' y2='1747.34' stroke='#ff00ff' stroke-width='5.2' /><line x1='2007.55' y1='1868.78' x2='2035.05' y2='1868.78' stroke='#ff00ff' stroke-width='5.2' /><line x1='2255.85' y1='1739.80' x2='2255.85' y2='1819.84' stroke='#ff00ff' stroke-width='3.4' /><line x1='2242.10' y1='1739.80' x2='2269.60' y2='1739.80' stroke='#ff00ff' stroke-width='5.2' /><line x1='2242.10' y1='1819.84' x2='2269.60' y2='1819.84' stroke='#ff00ff' stroke-width='5.2' /><line x1='1552.20' y1='1993.72' x2='1552.20' y2='2043.58' stroke='#960000' stroke-width='3.4' /><line x1='1538.45' y1='1993.72' x2='1565.95' y2='1993.72' stroke='#960000' stroke-width='5.2' /><line x1='1538.45' y1='2043.58' x2='1565.95' y2='2043.58' stroke='#960000' stroke-width='5.2' /><line x1='1786.75' y1='2004.76' x2='1786.75' y2='2051.68' stroke='#960000' stroke-width='3.4' /><line x1='1773.00' y1='2004.76' x2='1800.50' y2='2004.76' stroke='#960000' stroke-width='5.2' /><line x1='1773.00' y1='2051.68' x2='1800.50' y2='2051.68' stroke='#960000' stroke-width='5.2' /><line x1='2021.30' y1='1964.46' x2='2021.30' y2='2028.31' stroke='#960000' stroke-width='3.4' /><line x1='2007.55' y1='1964.46' x2='2035.05' y2='1964.46' stroke='#960000' stroke-width='5.2' /><line x1='2007.55' y1='2028.31' x2='2035.05' y2='2028.31' stroke='#960000' stroke-width='5.2' /><line x1='2255.85' y1='1956.37' x2='2255.85' y2='1997.77' stroke='#960000' stroke-width='3.4' /><line x1='2242.10' y1='1956.37' x2='2269.60' y2='1956.37' stroke='#960000' stroke-width='5.2' /><line x1='2242.10' y1='1997.77' x2='2269.60' y2='1997.77' stroke='#960000' stroke-width='5.2' /><line x1='833.00' y1='381.90' x2='926.00' y2='381.90' stroke='#000000' stroke-width='5.2' /><rect x='866.25' y='368.65' width='26.5' height='26.5' fill='#000000'/><line x1='833.00' y1='454.80' x2='926.00' y2='454.80' stroke='#ff0000' stroke-width='6.0' /><circle cx='879.50' cy='454.80' r='14.8' fill='#ff0000'/><line x1='833.00' y1='528.00' x2='926.00' y2='528.00' stroke='#0000ff' stroke-width='6.0' /><polygon points='862.00,538.33 897.00,538.33 879.50,507.33' fill='#0000ff'/><line x1='833.00' y1='600.80' x2='926.00' y2='600.80' stroke='#009600' stroke-width='6.0' /><polygon points='862.00,590.47 897.00,590.47 879.50,621.47' fill='#009600'/><line x1='2069.00' y1='378.50' x2='2163.60' y2='378.50' stroke='#000000' stroke-width='5.2' /><rect x='2103.05' y='365.25' width='26.5' height='26.5' fill='#000000'/><line x1='2069.00' y1='451.70' x2='2163.60' y2='451.70' stroke='#ff0000' stroke-width='6.0' /><circle cx='2116.30' cy='451.70' r='14.8' fill='#ff0000'/><line x1='2069.00' y1='524.40' x2='2163.60' y2='524.40' stroke='#0000ff' stroke-width='6.0' /><polygon points='2098.80,534.73 2133.80,534.73 2116.30,503.73' fill='#0000ff'/><line x1='2069.00' y1='597.00' x2='2163.60' y2='597.00' stroke='#009600' stroke-width='6.0' /><polygon points='2098.80,586.67 2133.80,586.67 2116.30,617.67' fill='#009600'/><line x1='256.60' y1='1460.00' x2='349.20' y2='1460.00' stroke='#000000' stroke-width='5.2' /><rect x='289.65' y='1446.75' width='26.5' height='26.5' fill='#000000'/><line x1='256.60' y1='1531.80' x2='349.20' y2='1531.80' stroke='#ff0000' stroke-width='6.0' /><circle cx='302.90' cy='1531.80' r='14.8' fill='#ff0000'/><line x1='471.70' y1='1460.00' x2='564.80' y2='1460.00' stroke='#0000ff' stroke-width='6.0' /><polygon points='500.75,1470.33 535.75,1470.33 518.25,1439.33' fill='#0000ff'/><line x1='471.70' y1='1531.80' x2='564.80' y2='1531.80' stroke='#009600' stroke-width='6.0' /><polygon points='500.75,1521.47 535.75,1521.47 518.25,1552.47' fill='#009600'/><line x1='687.20' y1='1460.00' x2='779.80' y2='1460.00' stroke='#ff00ff' stroke-width='6.0' /><polygon points='716.50,1460.00 733.50,1441.50 750.50,1460.00 733.50,1478.50' fill='#ff00ff'/><line x1='687.20' y1='1531.80' x2='779.80' y2='1531.80' stroke='#960000' stroke-width='6.0' /><polygon points='714.17,1531.80 743.17,1514.30 743.17,1549.30' fill='#960000'/><line x1='1487.20' y1='1462.50' x2='1580.80' y2='1462.50' stroke='#000000' stroke-width='5.2' /><rect x='1520.75' y='1449.25' width='26.5' height='26.5' fill='#000000'/><line x1='1487.20' y1='1536.50' x2='1580.80' y2='1536.50' stroke='#ff0000' stroke-width='6.0' /><circle cx='1534.00' cy='1536.50' r='14.8' fill='#ff0000'/><line x1='1700.70' y1='1462.50' x2='1795.90' y2='1462.50' stroke='#0000ff' stroke-width='6.0' /><polygon points='1730.80,1472.83 1765.80,1472.83 1748.30,1441.83' fill='#0000ff'/><line x1='1700.70' y1='1536.50' x2='1795.90' y2='1536.50' stroke='#009600' stroke-width='6.0' /><polygon points='1730.80,1526.17 1765.80,1526.17 1748.30,1557.17' fill='#009600'/><line x1='1916.00' y1='1462.50' x2='2011.00' y2='1462.50' stroke='#ff00ff' stroke-width='6.0' /><polygon points='1946.50,1462.50 1963.50,1444.00 1980.50,1462.50 1963.50,1481.00' fill='#ff00ff'/><line x1='1916.00' y1='1536.50' x2='2011.00' y2='1536.50' stroke='#960000' stroke-width='6.0' /><polygon points='1944.17,1536.50 1973.17,1519.00 1973.17,1554.00' fill='#960000'/><g transform='translate(27.73,100.72) scale(1.0536,1.0372)'><text font-family='Liberation Sans' font-weight='bold' font-style='normal' font-size='100'>(a)</text></g><g transform='translate(1238.10,100.64) scale(1.0593,1.0362)'><text font-family='Liberation Sans' font-weight='bold' font-style='normal' font-size='100'>(b)</text></g><g transform='translate(27.55,1240.55) scale(1.0295,1.0309)'><text font-family='Liberation Sans' font-weight='bold' font-style='normal' font-size='100'>(c)</text></g><g transform='translate(1238.10,1240.55) scale(1.0593,1.0309)'><text font-family='Liberation Sans' font-weight='bold' font-style='normal' font-size='100'>(d)</text></g><g transform='translate(178.04,154.70) scale(0.6795,0.7046)'><text font-family='Liberation Sans' font-weight='bold' font-style='normal' font-size='100'>Laser power density (MW/cm<tspan font-size='71' dx='-5' dy='-37'>2</tspan><tspan dx='2' dy='37'>)</tspan></text></g><g transform='translate(1415.44,151.29) scale(0.6794,0.7102)'><text font-family='Liberation Sans' font-weight='bold' font-style='normal' font-size='100'>Laser power density (MW/cm<tspan font-size='71' dx='-5' dy='-37'>2</tspan><tspan dx='2' dy='37'>)</tspan></text></g><g transform='translate(331.25,1107.92) scale(0.6781,0.7030)'><text font-family='Liberation Sans' font-weight='bold' font-style='normal' font-size='100'>Laser power <tspan font-style='italic'>P</tspan><tspan font-size='72' dx='-2' dy='27'>L</tspan><tspan dy='-27'> (mW)</tspan></text></g><g transform='translate(1565.43,1105.10) scale(0.6811,0.7000)'><text font-family='Liberation Sans' font-weight='bold' font-style='normal' font-size='100'>Laser power <tspan font-style='italic'>P</tspan><tspan font-size='72' dx='-2' dy='27'>L</tspan><tspan dy='-27'> (mW)</tspan></text></g><g transform='translate(290.43,2262.00) scale(0.6813,0.6713)'><text font-family='Liberation Sans' font-weight='bold' font-style='normal' font-size='100'>Laser dwell time <tspan font-family='Liberation Serif' font-style='italic' font-size='108'>τ</tspan><tspan font-size='70' dx='-9' dy='28'>L</tspan><tspan dy='-28'> (ms)</tspan></text></g><g transform='translate(1521.75,2265.60) scale(0.6791,0.6822)'><text font-family='Liberation Sans' font-weight='bold' font-style='normal' font-size='100'>Laser dwell time <tspan font-family='Liberation Serif' font-style='italic' font-size='108'>τ</tspan><tspan font-size='70' dx='-9' dy='28'>L</tspan><tspan dy='-28'> (ms)</tspan></text></g><g transform='translate(136.45,986.74) rotate(-90) scale(0.6808,0.6926)'><text font-family='Liberation Sans' font-weight='bold' font-style='normal' font-size='100'>Surface coverage <tspan font-family='DejaVu Serif' font-style='italic' font-weight='normal' font-size='96' dx='6'>θ</tspan><tspan dx='-16'> (%)</tspan></text></g><g transform='translate(1342.78,1066.56) rotate(-90) scale(0.6876,0.6915)'><text font-family='Liberation Sans' font-weight='bold' font-style='normal' font-size='100'>Average particle size <tspan font-family='Liberation Serif' font-style='italic' font-weight='normal' font-size='106'>α</tspan> (nm)</text></g><g transform='translate(139.18,2135.54) rotate(-90) scale(0.6802,0.6579)'><text font-family='Liberation Sans' font-weight='bold' font-style='normal' font-size='100'>Surface coverage <tspan font-family='DejaVu Serif' font-style='italic' font-weight='normal' font-size='96' dx='6'>θ</tspan><tspan dx='-16'> (%)</tspan></text></g><g transform='translate(1342.78,2220.26) rotate(-90) scale(0.6851,0.6915)'><text font-family='Liberation Sans' font-weight='bold' font-style='normal' font-size='100'>Average particle size <tspan font-family='Liberation Serif' font-style='italic' font-weight='normal' font-size='106'>α</tspan> (nm)</text></g><g transform='translate(225.89,222.98) scale(0.5170,0.5183)'><text font-family='Liberation Sans' font-weight='normal' font-style='normal' font-size='100'>0.00</text></g><g transform='translate(1461.49,225.98) scale(0.5170,0.5239)'><text font-family='Liberation Sans' font-weight='normal' font-style='normal' font-size='100'>0.00</text></g><g transform='translate(419.15,222.98) scale(0.5170,0.5183)'><text font-family='Liberation Sans' font-weight='normal' font-style='normal' font-size='100'>0.05</text></g><g transform='translate(1654.35,225.98) scale(0.5170,0.5239)'><text font-family='Liberation Sans' font-weight='normal' font-style='normal' font-size='100'>0.05</text></g><g transform='translate(611.89,222.98) scale(0.5170,0.5183)'><text font-family='Liberation Sans' font-weight='normal' font-style='normal' font-size='100'>0.10</text></g><g transform='translate(1846.69,225.98) scale(0.5170,0.5239)'><text font-family='Liberation Sans' font-weight='normal' font-style='normal' font-size='100'>0.10</text></g><g transform='translate(805.15,222.98) scale(0.5170,0.5183)'><text font-family='Liberation Sans' font-weight='normal' font-style='normal' font-size='100'>0.15</text></g><g transform='translate(2039.55,225.98) scale(0.5170,0.5239)'><text font-family='Liberation Sans' font-weight='normal' font-style='normal' font-size='100'>0.15</text></g><g transform='translate(997.89,222.98) scale(0.5170,0.5183)'><text font-family='Liberation Sans' font-weight='normal' font-style='normal' font-size='100'>0.20</text></g><g transform='translate(2231.89,225.98) scale(0.5170,0.5239)'><text font-family='Liberation Sans' font-weight='normal' font-style='normal' font-size='100'>0.20</text></g><g transform='translate(262.02,1029.79) scale(0.5170,0.5113)'><text font-family='Liberation Sans' font-weight='normal' font-style='normal' font-size='100'>0</text></g><g transform='translate(1497.52,1028.37) scale(0.5170,0.5310)'><text font-family='Liberation Sans' font-weight='normal' font-style='normal' font-size='100'>0</text></g><g transform='translate(393.73,1029.78) scale(0.5170,0.5186)'><text font-family='Liberation Sans' font-weight='normal' font-style='normal' font-size='100'>5</text></g><g transform='translate(1629.33,1028.36) scale(0.5170,0.5386)'><text font-family='Liberation Sans' font-weight='normal' font-style='normal' font-size='100'>5</text></g><g transform='translate(509.67,1029.79) scale(0.5170,0.5113)'><text font-family='Liberation Sans' font-weight='normal' font-style='normal' font-size='100'>10</text></g><g transform='translate(1745.37,1028.37) scale(0.5170,0.5310)'><text font-family='Liberation Sans' font-weight='normal' font-style='normal' font-size='100'>10</text></g><g transform='translate(641.12,1029.78) scale(0.5170,0.5186)'><text font-family='Liberation Sans' font-weight='normal' font-style='normal' font-size='100'>15</text></g><g transform='translate(1876.92,1028.36) scale(0.5170,0.5386)'><text font-family='Liberation Sans' font-weight='normal' font-style='normal' font-size='100'>15</text></g><g transform='translate(773.35,1029.79) scale(0.5170,0.5113)'><text font-family='Liberation Sans' font-weight='normal' font-style='normal' font-size='100'>20</text></g><g transform='translate(2009.25,1028.37) scale(0.5170,0.5310)'><text font-family='Liberation Sans' font-weight='normal' font-style='normal' font-size='100'>20</text></g><g transform='translate(904.80,1029.79) scale(0.5170,0.5113)'><text font-family='Liberation Sans' font-weight='normal' font-style='normal' font-size='100'>25</text></g><g transform='translate(2140.80,1028.37) scale(0.5170,0.5310)'><text font-family='Liberation Sans' font-weight='normal' font-style='normal' font-size='100'>25</text></g><g transform='translate(1036.51,1029.79) scale(0.5170,0.5113)'><text font-family='Liberation Sans' font-weight='normal' font-style='normal' font-size='100'>30</text></g><g transform='translate(2272.61,1028.37) scale(0.5170,0.5310)'><text font-family='Liberation Sans' font-weight='normal' font-style='normal' font-size='100'>30</text></g><g transform='translate(179.12,989.79) scale(0.5170,0.5141)'><text font-family='Liberation Sans' font-weight='normal' font-style='normal' font-size='100'>0</text></g><g transform='translate(183.92,2138.59) scale(0.5170,0.5070)'><text font-family='Liberation Sans' font-weight='normal' font-style='normal' font-size='100'>0</text></g><g transform='translate(179.63,810.80) scale(0.5170,0.5214)'><text font-family='Liberation Sans' font-weight='normal' font-style='normal' font-size='100'>2</text></g><g transform='translate(184.43,1959.70) scale(0.5170,0.5143)'><text font-family='Liberation Sans' font-weight='normal' font-style='normal' font-size='100'>2</text></g><g transform='translate(178.60,631.30) scale(0.5170,0.5214)'><text font-family='Liberation Sans' font-weight='normal' font-style='normal' font-size='100'>4</text></g><g transform='translate(183.40,1780.30) scale(0.5170,0.5143)'><text font-family='Liberation Sans' font-weight='normal' font-style='normal' font-size='100'>4</text></g><g transform='translate(179.63,451.29) scale(0.5170,0.5141)'><text font-family='Liberation Sans' font-weight='normal' font-style='normal' font-size='100'>6</text></g><g transform='translate(184.43,1600.39) scale(0.5170,0.5070)'><text font-family='Liberation Sans' font-weight='normal' font-style='normal' font-size='100'>6</text></g><g transform='translate(179.63,271.79) scale(0.5170,0.5141)'><text font-family='Liberation Sans' font-weight='normal' font-style='normal' font-size='100'>8</text></g><g transform='translate(184.43,1420.99) scale(0.5170,0.5070)'><text font-family='Liberation Sans' font-weight='normal' font-style='normal' font-size='100'>8</text></g><g transform='translate(1386.98,950.77) scale(0.5170,0.5282)'><text font-family='Liberation Sans' font-weight='normal' font-style='normal' font-size='100'>35</text></g><g transform='translate(1385.98,2105.37) scale(0.5170,0.5282)'><text font-family='Liberation Sans' font-weight='normal' font-style='normal' font-size='100'>35</text></g><g transform='translate(1386.98,858.57) scale(0.5170,0.5282)'><text font-family='Liberation Sans' font-weight='normal' font-style='normal' font-size='100'>40</text></g><g transform='translate(1385.98,2013.37) scale(0.5170,0.5282)'><text font-family='Liberation Sans' font-weight='normal' font-style='normal' font-size='100'>40</text></g><g transform='translate(1386.98,766.37) scale(0.5170,0.5282)'><text font-family='Liberation Sans' font-weight='normal' font-style='normal' font-size='100'>45</text></g><g transform='translate(1385.98,1921.37) scale(0.5170,0.5282)'><text font-family='Liberation Sans' font-weight='normal' font-style='normal' font-size='100'>45</text></g><g transform='translate(1386.98,674.17) scale(0.5170,0.5282)'><text font-family='Liberation Sans' font-weight='normal' font-style='normal' font-size='100'>50</text></g><g transform='translate(1385.98,1829.37) scale(0.5170,0.5282)'><text font-family='Liberation Sans' font-weight='normal' font-style='normal' font-size='100'>50</text></g><g transform='translate(1386.98,581.96) scale(0.5170,0.5357)'><text font-family='Liberation Sans' font-weight='normal' font-style='normal' font-size='100'>55</text></g><g transform='translate(1385.98,1737.36) scale(0.5170,0.5357)'><text font-family='Liberation Sans' font-weight='normal' font-style='normal' font-size='100'>55</text></g><g transform='translate(1386.98,489.77) scale(0.5170,0.5282)'><text font-family='Liberation Sans' font-weight='normal' font-style='normal' font-size='100'>60</text></g><g transform='translate(1385.98,1645.37) scale(0.5170,0.5282)'><text font-family='Liberation Sans' font-weight='normal' font-style='normal' font-size='100'>60</text></g><g transform='translate(1386.98,397.57) scale(0.5170,0.5282)'><text font-family='Liberation Sans' font-weight='normal' font-style='normal' font-size='100'>65</text></g><g transform='translate(1385.98,1553.37) scale(0.5170,0.5282)'><text font-family='Liberation Sans' font-weight='normal' font-style='normal' font-size='100'>65</text></g><g transform='translate(1386.98,305.37) scale(0.5170,0.5282)'><text font-family='Liberation Sans' font-weight='normal' font-style='normal' font-size='100'>70</text></g><g transform='translate(1385.98,1461.37) scale(0.5170,0.5282)'><text font-family='Liberation Sans' font-weight='normal' font-style='normal' font-size='100'>70</text></g><g transform='translate(277.83,2177.12) scale(0.5170,0.4817)'><text font-family='Liberation Sans' font-weight='normal' font-style='normal' font-size='100'>500</text></g><g transform='translate(1509.03,2182.39) scale(0.5170,0.5113)'><text font-family='Liberation Sans' font-weight='normal' font-style='normal' font-size='100'>500</text></g><g transform='translate(497.67,2177.12) scale(0.5170,0.4817)'><text font-family='Liberation Sans' font-weight='normal' font-style='normal' font-size='100'>1000</text></g><g transform='translate(1728.07,2182.39) scale(0.5170,0.5113)'><text font-family='Liberation Sans' font-weight='normal' font-style='normal' font-size='100'>1000</text></g><g transform='translate(733.02,2177.12) scale(0.5170,0.4817)'><text font-family='Liberation Sans' font-weight='normal' font-style='normal' font-size='100'>1500</text></g><g transform='translate(1962.62,2182.39) scale(0.5170,0.5113)'><text font-family='Liberation Sans' font-weight='normal' font-style='normal' font-size='100'>1500</text></g><g transform='translate(969.15,2177.12) scale(0.5170,0.4817)'><text font-family='Liberation Sans' font-weight='normal' font-style='normal' font-size='100'>2000</text></g><g transform='translate(2197.95,2182.39) scale(0.5170,0.5113)'><text font-family='Liberation Sans' font-weight='normal' font-style='normal' font-size='100'>2000</text></g><g transform='translate(978.58,403.68) scale(0.5940,0.6155)'><text font-family='Liberation Sans' font-weight='bold' font-style='normal' font-size='100'>500</text></g><g transform='translate(945.91,476.58) scale(0.5940,0.6155)'><text font-family='Liberation Sans' font-weight='bold' font-style='normal' font-size='100'>1000</text></g><g transform='translate(945.91,549.78) scale(0.5940,0.6155)'><text font-family='Liberation Sans' font-weight='bold' font-style='normal' font-size='100'>1500</text></g><g transform='translate(945.91,622.58) scale(0.5940,0.6155)'><text font-family='Liberation Sans' font-weight='bold' font-style='normal' font-size='100'>2000</text></g><g transform='translate(2217.18,400.07) scale(0.5940,0.6296)'><text font-family='Liberation Sans' font-weight='bold' font-style='normal' font-size='100'>500</text></g><g transform='translate(2184.51,473.27) scale(0.5940,0.6296)'><text font-family='Liberation Sans' font-weight='bold' font-style='normal' font-size='100'>1000</text></g><g transform='translate(2184.51,545.97) scale(0.5940,0.6296)'><text font-family='Liberation Sans' font-weight='bold' font-style='normal' font-size='100'>1500</text></g><g transform='translate(2184.51,618.57) scale(0.5940,0.6296)'><text font-family='Liberation Sans' font-weight='bold' font-style='normal' font-size='100'>2000</text></g><g transform='translate(403.11,1481.50) scale(0.5940,0.6500)'><text font-family='Liberation Sans' font-weight='bold' font-style='normal' font-size='100'>2</text></g><g transform='translate(402.52,1552.65) scale(0.5940,0.6500)'><text font-family='Liberation Sans' font-weight='bold' font-style='normal' font-size='100'>5</text></g><g transform='translate(585.44,1480.86) scale(0.5940,0.6408)'><text font-family='Liberation Sans' font-weight='bold' font-style='normal' font-size='100'>10</text></g><g transform='translate(584.85,1552.65) scale(0.5940,0.6500)'><text font-family='Liberation Sans' font-weight='bold' font-style='normal' font-size='100'>15</text></g><g transform='translate(800.94,1480.86) scale(0.5940,0.6408)'><text font-family='Liberation Sans' font-weight='bold' font-style='normal' font-size='100'>20</text></g><g transform='translate(800.94,1552.66) scale(0.5940,0.6408)'><text font-family='Liberation Sans' font-weight='bold' font-style='normal' font-size='100'>30</text></g><g transform='translate(1632.31,1484.20) scale(0.5940,0.6200)'><text font-family='Liberation Sans' font-weight='bold' font-style='normal' font-size='100'>2</text></g><g transform='translate(1631.72,1557.58) scale(0.5940,0.6200)'><text font-family='Liberation Sans' font-weight='bold' font-style='normal' font-size='100'>5</text></g><g transform='translate(1815.24,1483.59) scale(0.5940,0.6113)'><text font-family='Liberation Sans' font-weight='bold' font-style='normal' font-size='100'>10</text></g><g transform='translate(1814.65,1557.58) scale(0.5940,0.6200)'><text font-family='Liberation Sans' font-weight='bold' font-style='normal' font-size='100'>15</text></g><g transform='translate(2029.84,1483.59) scale(0.5940,0.6113)'><text font-family='Liberation Sans' font-weight='bold' font-style='normal' font-size='100'>20</text></g><g transform='translate(2029.84,1557.59) scale(0.5940,0.6113)'><text font-family='Liberation Sans' font-weight='bold' font-style='normal' font-size='100'>30</text></g><g transform='translate(862.91,323.80) scale(0.5961,0.6165)'><text font-family='Liberation Sans' font-weight='bold' font-style='normal' font-size='100'><tspan font-family='Liberation Serif' font-style='italic' font-size='105'>τ</tspan><tspan font-size='68' dx='-9' dy='24'>L</tspan><tspan dy='-24'> (ms)</tspan></text></g><g transform='translate(2109.82,320.53) scale(0.5916,0.6320)'><text font-family='Liberation Sans' font-weight='bold' font-style='normal' font-size='100'><tspan font-family='Liberation Serif' font-style='italic' font-size='105'>τ</tspan><tspan font-size='68' dx='-9' dy='24'>L</tspan><tspan dy='-24'> (ms)</tspan></text></g><g transform='translate(255.41,1623.90) scale(0.5957,0.5808)'><text font-family='Liberation Sans' font-weight='bold' font-style='normal' font-size='100'><tspan font-style='italic'>P</tspan><tspan font-size='68' dx='-3' dy='26'>L</tspan><tspan dy='-26'> (mW)</tspan></text></g><g transform='translate(1486.01,1627.12) scale(0.5971,0.5838)'><text font-family='Liberation Sans' font-weight='bold' font-style='normal' font-size='100'><tspan font-style='italic'>P</tspan><tspan font-size='68' dx='-3' dy='26'>L</tspan><tspan dy='-26'> (mW)</tspan></text></g></svg></body></html>
